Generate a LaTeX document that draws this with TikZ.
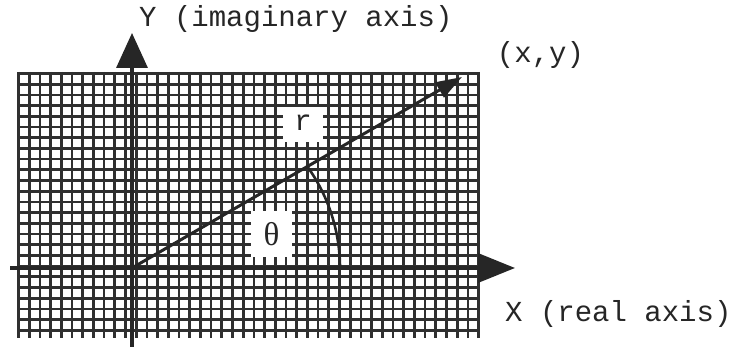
\documentclass[tikz,border=0pt]{standalone}
\usepackage{fontspec}
\newfontfamily\cour{Liberation Mono}
\newfontfamily\tms{Liberation Serif}
\usetikzlibrary{arrows.meta}
\definecolor{ink}{HTML}{262626}
\definecolor{gridc}{HTML}{303030}
\begin{document}
\begin{tikzpicture}[x=1pt,y=-1pt,
  gridline/.style={draw=gridc,line width=2.7pt},
  axisline/.style={draw=ink,line width=3.4pt},
  lbl/.style={font=\cour\fontsize{29}{34}\selectfont,text=ink,inner sep=0pt},
  whitebox/.style={fill=white,draw=none,inner sep=0pt}]
\useasboundingbox (0,0) rectangle (734,347);
\fill[white] (0,0) rectangle (734,347);
% grid
\foreach \i in {0,...,43}{
  \draw[gridline] ({18.5+10.7*\i},72) -- ({18.5+10.7*\i},338);
}
\foreach \j in {0,...,24}{
  \draw[gridline] (17,{73.5+10.7*\j}) -- (480,{73.5+10.7*\j});
}
% white label boxes
\node[whitebox,minimum width=40pt,minimum height=35pt,text height=11pt,text depth=0pt,font=\cour\fontsize{29}{34}\selectfont,text=ink] (rlab) at (303,125) {r};
\node[whitebox,minimum width=41pt,minimum height=46pt,font=\tms\fontsize{33}{38}\selectfont,text=ink] (tlab) at (271.5,234) {θ};
% coordinates
\coordinate (O) at (132,268);
\coordinate (ytop) at (132,33);
\coordinate (ybot) at (132,347);
\coordinate (xleft) at (10,268);
\coordinate (xright) at (515,268);
\coordinate (P) at (462,77);
\coordinate (arcc) at (166,268);
% axes
\draw[axisline,-{Triangle[length=35pt,width=31pt]}] (ybot) -- (ytop);
\draw[axisline,-{Triangle[length=37pt,width=29pt]}] (xleft) -- (xright);
% ray
\draw[draw=ink,line width=3pt,-{Triangle[length=26pt,width=17pt]}] (O) -- (P);
% angle arc
\draw[draw=ink,line width=2.6pt] ([shift={(35.4:174pt)}]arcc) arc[start angle=35.4,end angle=0,radius=174pt];
% labels
\node[lbl,anchor=base west] (ylab) at (139,27) {Y (imaginary axis)};
\node[lbl,anchor=base] (plab) at (540.5,63) {(x,y)};
\node[lbl,anchor=base west] (xlab) at (505,321.5) {X (real axis)};
\end{tikzpicture}
\end{document}
